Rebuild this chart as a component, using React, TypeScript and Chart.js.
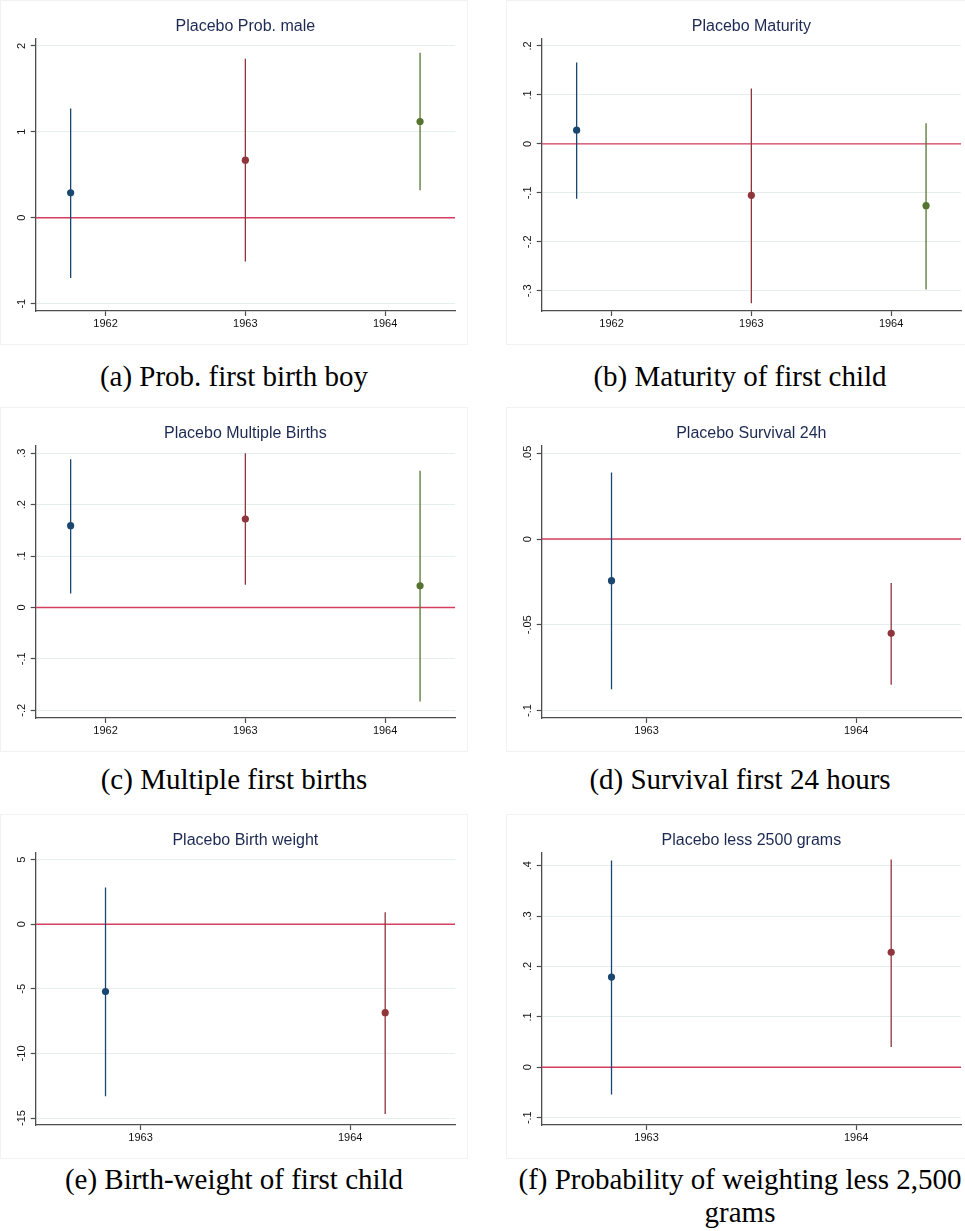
import React, { useEffect, useRef } from 'react';
import { Chart, registerables } from 'chart.js';

Chart.register(...registerables);

// Horizontal placement of the estimates and the year ticks
const years3 = [1962, 1963, 1964];
const years2 = [1963, 1964];
const xPos3 = [1961.75, 1963, 1964.25];
const xPos2 = [1962.833, 1964.167];
const xRange3 = [1961.5, 1964.5];
const xRange2 = [1962.5, 1964.5];

const colors3 = ['#1a476f', '#90353b', '#55752f'];
const colors2 = ['#1a476f', '#90353b'];

// (a) Prob. male
const maleEst = [0.29, 0.67, 1.12];
const maleLo = [-0.7, -0.51, 0.32];
const maleHi = [1.27, 1.85, 1.92];
const maleRange = [-1.085, 2.08];
const maleTicks = [-1, 0, 1, 2];
const maleTickLabels = ['-1', '0', '1', '2'];

// (b) Maturity
const maturityEst = [0.028, -0.105, -0.126];
const maturityLo = [-0.112, -0.325, -0.297];
const maturityHi = [0.166, 0.113, 0.042];
const maturityRange = [-0.341, 0.214];
const maturityTicks = [-0.3, -0.2, -0.1, 0, 0.1, 0.2];
const maturityTickLabels = ['-.3', '-.2', '-.1', '0', '.1', '.2'];

// (c) Multiple births
const multipleEst = [0.159, 0.172, 0.042];
const multipleLo = [0.027, 0.044, -0.183];
const multipleHi = [0.288, 0.3, 0.266];
const multipleRange = [-0.215, 0.314];
const multipleTicks = [-0.2, -0.1, 0, 0.1, 0.2, 0.3];
const multipleTickLabels = ['-.2', '-.1', '0', '.1', '.2', '.3'];

// (d) Survival 24h
const survivalEst = [-0.0243, -0.055];
const survivalLo = [-0.0876, -0.085];
const survivalHi = [0.0389, -0.0257];
const survivalRange = [-0.1044, 0.0543];
const survivalTicks = [-0.1, -0.05, 0, 0.05];
const survivalTickLabels = ['-.1', '-.05', '0', '.05'];

// (e) Birth weight
const weightEst = [-5.21, -6.84];
const weightLo = [-13.31, -14.69];
const weightHi = [2.85, 0.93];
const weightRange = [-15.54, 5.52];
const weightTicks = [-15, -10, -5, 0, 5];
const weightTickLabels = ['-15', '-10', '-5', '0', '5'];

// (f) Less than 2500 grams
const lowWeightEst = [0.179, 0.228];
const lowWeightLo = [-0.054, 0.04];
const lowWeightHi = [0.41, 0.412];
const lowWeightRange = [-0.1145, 0.425];
const lowWeightTicks = [-0.1, 0, 0.1, 0.2, 0.3, 0.4];
const lowWeightTickLabels = ['-.1', '0', '.1', '.2', '.3', '.4'];

const SANS = '"Liberation Sans", Arial, Helvetica, sans-serif';
const SERIF = '"Liberation Serif", "Times New Roman", serif';
const AXIS = '#4d4d4d';
const GRID = '#e7eef0';
const ZERO = '#d63d5e';
const TITLE = '#1c2952';
const TICK = '#111111';

const PANEL_W = 468;
const PANEL_H = 345;

type PanelProps = {
  title: string;
  years: number[];
  xPos: number[];
  xRange: number[];
  est: number[];
  lo: number[];
  hi: number[];
  colors: string[];
  yRange: number[];
  yTicks: number[];
  yTickLabels: string[];
  left: number;
  top: number;
};

function Panel(p: PanelProps) {
  const ref = useRef<HTMLCanvasElement | null>(null);

  useEffect(() => {
    if (!ref.current) return;
    const tickFont = { family: SANS, size: 11 };

    // keep the rotated y labels centred a fixed distance left of the axis
    const meas = document.createElement('canvas').getContext('2d')!;
    meas.font = `11px ${SANS}`;
    const widest = Math.max(...p.yTickLabels.map((s) => meas.measureText(s).width));
    const yPad = 13.7 - 5 - widest / 2;

    const datasets: any[] = [];
    datasets.push({
      type: 'line',
      data: [
        { x: p.xRange[0], y: 0 },
        { x: p.xRange[1], y: 0 },
      ],
      borderColor: ZERO,
      borderWidth: 1.4,
      pointRadius: 0,
      order: 3,
    });
    p.est.forEach((_, i) => {
      datasets.push({
        type: 'line',
        data: [
          { x: p.xPos[i], y: p.lo[i] },
          { x: p.xPos[i], y: p.hi[i] },
        ],
        borderColor: p.colors[i],
        borderWidth: 1.3,
        pointRadius: 0,
        order: 2,
      });
    });
    datasets.push({
      type: 'scatter',
      data: p.est.map((v, i) => ({ x: p.xPos[i], y: v })),
      pointBackgroundColor: p.colors,
      pointBorderColor: p.colors,
      pointBorderWidth: 0,
      pointRadius: 3.6,
      order: 1,
    });

    const chart = new Chart(ref.current, {
      type: 'scatter',
      data: { datasets },
      options: {
        animation: false,
        responsive: false,
        devicePixelRatio: 1,
        events: [],
        layout: { padding: { left: 0, right: 13, top: 0, bottom: 0 } },
        plugins: {
          legend: { display: false },
          tooltip: { enabled: false },
          title: {
            display: true,
            fullSize: false,
            text: p.title,
            color: TITLE,
            font: { family: SANS, size: 16, weight: 'normal' },
            padding: { top: 17.4, bottom: 2.4 },
          },
        },
        scales: {
          x: {
            type: 'linear',
            min: p.xRange[0],
            max: p.xRange[1],
            afterBuildTicks: (s: any) => {
              s.ticks = p.years.map((v) => ({ value: v }));
            },
            afterFit: (s: any) => {
              s.height = 34;
            },
            grid: {
              drawOnChartArea: false,
              drawTicks: true,
              tickLength: 5,
              tickColor: AXIS,
              tickWidth: 1.2,
            },
            border: { display: true, color: AXIS, width: 1.3 },
            ticks: {
              color: TICK,
              font: tickFont,
              padding: 1,
              minRotation: 0,
              maxRotation: 0,
              callback: (v: any) => String(v),
            },
          },
          y: {
            type: 'linear',
            min: p.yRange[0],
            max: p.yRange[1],
            afterBuildTicks: (s: any) => {
              s.ticks = p.yTicks.map((v) => ({ value: v }));
            },
            afterFit: (s: any) => {
              s.width = 35.7;
            },
            grid: {
              color: GRID,
              lineWidth: 1,
              drawTicks: true,
              tickLength: 5,
              tickColor: AXIS,
              tickWidth: 1.2,
            },
            border: { display: true, color: AXIS, width: 1.3 },
            ticks: {
              color: TICK,
              font: tickFont,
              padding: yPad,
              minRotation: 90,
              maxRotation: 90,
              crossAlign: 'center',
              callback: (v: any) => {
                const i = p.yTicks.findIndex((t) => Math.abs(t - v) < 1e-9);
                return i >= 0 ? p.yTickLabels[i] : '';
              },
            },
          },
        },
      } as any,
    });
    return () => chart.destroy();
  }, []);

  return (
    <>
      <div
        style={{
          position: 'absolute',
          left: p.left,
          top: p.top,
          width: PANEL_W,
          height: PANEL_H,
          border: '1px solid #f2f2f2',
          boxSizing: 'border-box',
        }}
      />
      <canvas
        ref={ref}
        width={PANEL_W}
        height={PANEL_H}
        style={{ position: 'absolute', left: p.left, top: p.top, width: PANEL_W, height: PANEL_H }}
      />
    </>
  );
}

function Caption({ left, top, children }: { left: number; top: number; children: React.ReactNode }) {
  return (
    <div
      style={{
        position: 'absolute',
        left,
        top,
        width: PANEL_W,
        textAlign: 'center',
        fontFamily: SERIF,
        fontSize: 29,
        lineHeight: '33px',
        color: '#000',
        whiteSpace: 'nowrap',
      }}
    >
      {children}
    </div>
  );
}

const COL_L = 0;
const COL_R = 506;
const ROW_1 = 0;
const ROW_2 = 407;
const ROW_3 = 814;

export default function App() {
  return (
    <div
      style={{
        position: 'absolute',
        left: 0,
        top: 0,
        width: 965,
        height: 1231,
        overflow: 'hidden',
        background: '#ffffff',
      }}
    >
      <Panel title="Placebo Prob. male" years={years3} xPos={xPos3} xRange={xRange3}
        est={maleEst} lo={maleLo} hi={maleHi} colors={colors3}
        yRange={maleRange} yTicks={maleTicks} yTickLabels={maleTickLabels} left={COL_L} top={ROW_1} />
      <Panel title="Placebo Maturity" years={years3} xPos={xPos3} xRange={xRange3}
        est={maturityEst} lo={maturityLo} hi={maturityHi} colors={colors3}
        yRange={maturityRange} yTicks={maturityTicks} yTickLabels={maturityTickLabels} left={COL_R} top={ROW_1} />
      <Panel title="Placebo Multiple Births" years={years3} xPos={xPos3} xRange={xRange3}
        est={multipleEst} lo={multipleLo} hi={multipleHi} colors={colors3}
        yRange={multipleRange} yTicks={multipleTicks} yTickLabels={multipleTickLabels} left={COL_L} top={ROW_2} />
      <Panel title="Placebo Survival 24h" years={years2} xPos={xPos2} xRange={xRange2}
        est={survivalEst} lo={survivalLo} hi={survivalHi} colors={colors2}
        yRange={survivalRange} yTicks={survivalTicks} yTickLabels={survivalTickLabels} left={COL_R} top={ROW_2} />
      <Panel title="Placebo Birth weight" years={years2} xPos={xPos2} xRange={xRange2}
        est={weightEst} lo={weightLo} hi={weightHi} colors={colors2}
        yRange={weightRange} yTicks={weightTicks} yTickLabels={weightTickLabels} left={COL_L} top={ROW_3} />
      <Panel title="Placebo less 2500 grams" years={years2} xPos={xPos2} xRange={xRange2}
        est={lowWeightEst} lo={lowWeightLo} hi={lowWeightHi} colors={colors2}
        yRange={lowWeightRange} yTicks={lowWeightTicks} yTickLabels={lowWeightTickLabels} left={COL_R} top={ROW_3} />

      <Caption left={COL_L} top={360}>(a) Prob. first birth boy</Caption>
      <Caption left={COL_R} top={360}>(b) Maturity of first child</Caption>
      <Caption left={COL_L} top={763}>(c) Multiple first births</Caption>
      <Caption left={COL_R} top={763}>(d) Survival first 24 hours</Caption>
      <Caption left={COL_L} top={1163}>(e) Birth-weight of first child</Caption>
      <Caption left={COL_R} top={1163}>
        (f) Probability of weighting less 2,500
        <br />
        grams
      </Caption>
    </div>
  );
}
